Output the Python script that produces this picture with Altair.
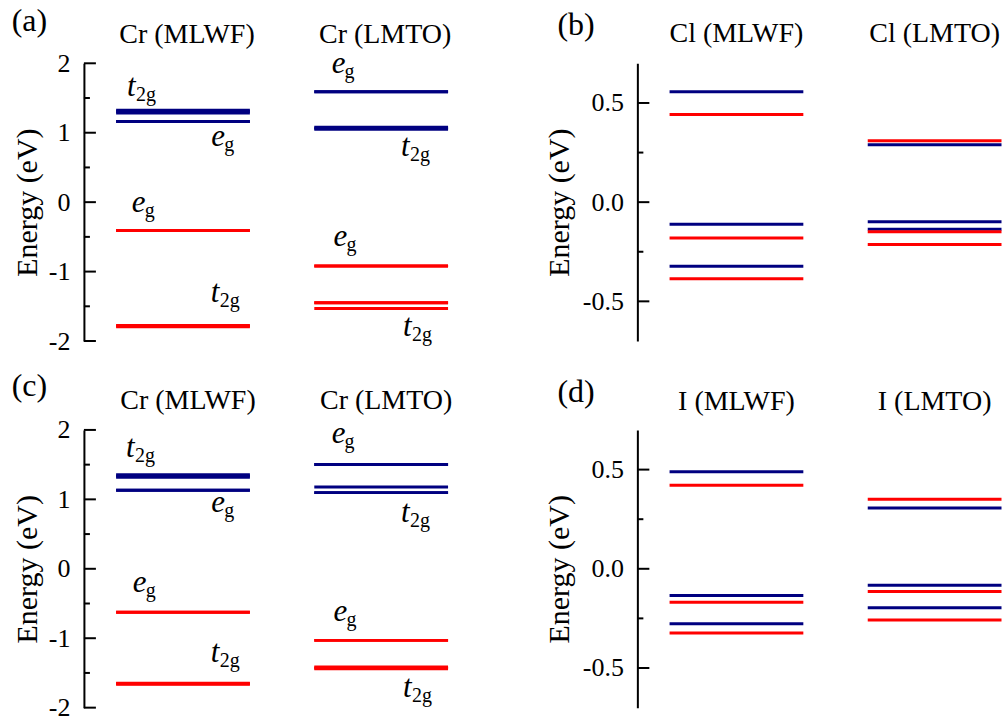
import altair as alt
import pandas as pd

FONT = "Times New Roman, Liberation Serif, DejaVu Serif, serif"
BLUE = "#000080"
RED = "#ff0000"

# ---------------- data (energies in eV) ----------------
# panel (a): Cr d levels
a_blue_mlwf = [1.285, 1.305, 1.325, 1.16, 1.16]
a_red_mlwf = [-0.41, -0.41, -1.775, -1.785, -1.795]
a_blue_lmto = [1.59, 1.59, 1.08, 1.065, 1.05]
a_red_lmto = [-0.92, -0.92, -1.45, -1.45, -1.53]

# panel (b): Cl p levels
b_blue_mlwf = [0.556, -0.111, -0.323]
b_red_mlwf = [0.442, -0.181, -0.386]
b_blue_lmto = [0.289, -0.099, -0.136]
b_red_lmto = [0.309, -0.149, -0.213]

# panel (c): Cr d levels
c_blue_mlwf = [1.32, 1.337, 1.353, 1.131, 1.131]
c_red_mlwf = [-0.627, -0.627, -1.65, -1.657, -1.662]
c_blue_lmto = [1.502, 1.502, 1.178, 1.097, 1.097]
c_red_lmto = [-1.031, -1.031, -1.415, -1.428, -1.44]

# panel (d): I p levels
d_blue_mlwf = [0.489, -0.135, -0.277]
d_red_mlwf = [0.421, -0.169, -0.324]
d_blue_lmto = [0.307, -0.083, -0.197]
d_red_lmto = [0.351, -0.115, -0.258]

method_names = ["MLWF", "LMTO"]
cr_ticks_major = [-2, -1, 0, 1, 2]
cr_ticks_minor = [-1.5, -0.5, 0.5, 1.5]
p_ticks_major = [-0.5, 0.0, 0.5]
p_ticks_minor = [-0.25, 0.25]

W, H = 365, 278
XDOM = [0.5, 2.34]
HALF = 0.3375


def levels_df(blue_m, red_m, blue_l, red_l):
    rows = []
    for col, (b, r) in enumerate([(blue_m, red_m), (blue_l, red_l)], start=1):
        for e in b:
            rows.append({"col": col, "spin": "blue", "E": e})
        for e in r:
            rows.append({"col": col, "spin": "red", "E": e})
    return pd.DataFrame(rows)


def panel(letter, elem, df, ydom, major, minor, fmt, title_x, title_dx,
          title_y, letter_x, letter_y, t_marks, e_marks):
    xs = alt.Scale(domain=XDOM, nice=False, zero=False)
    ys = alt.Scale(domain=ydom, nice=False, zero=False)
    yaxis = alt.Axis(
        values=major, format=fmt,
        labelExpr="replace(datum.label, '\u2212', '-')",
        ticks=False, tickSize=0, domainColor="black", domainWidth=2,
        grid=False, labelFont=FONT, labelFontSize=26, labelColor="black",
        labelPadding=14, title="Energy (eV)", titleFont=FONT,
        titleFontSize=30, titleFontWeight="normal", titleColor="black",
        titleX=title_x, titleY=H / 2, titleAngle=270, titleAlign="center",
        titleBaseline="middle")

    lv = alt.Chart(df).transform_calculate(
        x1=f"datum.col - {HALF}", x2=f"datum.col + {HALF}"
    ).mark_rule(strokeWidth=3).encode(
        x=alt.X("x1:Q", scale=xs, axis=None),
        x2="x2:Q",
        y=alt.Y("E:Q", scale=ys, axis=yaxis),
        color=alt.Color("spin:N", scale=alt.Scale(domain=["blue", "red"], range=[BLUE, RED]), legend=None),
    )

    tmaj = alt.Chart(pd.DataFrame({"v": major})).mark_rule(color="black", strokeWidth=2).encode(
        y=alt.Y("v:Q", scale=ys, axis=yaxis), x=alt.value(0), x2=alt.value(12))
    tmin = alt.Chart(pd.DataFrame({"v": minor})).mark_rule(color="black", strokeWidth=2).encode(
        y=alt.Y("v:Q", scale=ys, axis=yaxis), x=alt.value(0), x2=alt.value(6))

    titles = alt.Chart(pd.DataFrame({"col": [1, 2], "name": [f"{elem} ({m})" for m in method_names]})).mark_text(
        font=FONT, fontSize=28, baseline="alphabetic", align="center", dx=title_dx, color="black"
    ).encode(x=alt.X("col:Q", scale=xs, axis=None), y=alt.value(title_y), text="name:N")

    lab = alt.Chart(pd.DataFrame({"t": [f"({letter})"]})).mark_text(
        font=FONT, fontSize=32, align="left", baseline="alphabetic", color="black"
    ).encode(x=alt.value(letter_x), y=alt.value(letter_y), text="t:N")

    tdf = pd.DataFrame(t_marks, columns=["c", "e"])
    edf = pd.DataFrame(e_marks, columns=["c", "e"])

    def ann(d, main, sub, sdx):
        big = alt.Chart(d).mark_text(font=FONT, fontSize=31, fontStyle="italic", align="left",
                                     baseline="alphabetic", color="black", text=main).encode(
            x=alt.X("c:Q", scale=xs, axis=None), y=alt.Y("e:Q", scale=ys, axis=yaxis))
        small = alt.Chart(d).mark_text(font=FONT, fontSize=20, align="left",
                                       baseline="alphabetic", color="black", text=sub, dx=sdx, dy=5).encode(
            x=alt.X("c:Q", scale=xs, axis=None), y=alt.Y("e:Q", scale=ys, axis=yaxis))
        return [big, small]

    layers = [lv, tmaj, tmin, titles, lab]
    if len(tdf):
        layers += ann(tdf, "t", "2g", 9)
    if len(edf):
        layers += ann(edf, "e", "g", 13)
    return alt.layer(*layers).properties(width=W, height=H)


pa = panel("a", "Cr", levels_df(a_blue_mlwf, a_red_mlwf, a_blue_lmto, a_red_lmto), [-2, 2],
           cr_ticks_major, cr_ticks_minor, "d", -56, 4, -20, -72.3, -32,
           [(0.717, 1.525), (1.140, -1.439), (2.100, 0.662), (2.110, -1.928)],
           [(1.143, 0.806), (0.742, -0.144), (1.750, 1.865), (1.760, -0.633)])
pb = panel("b", "Cl", levels_df(b_blue_mlwf, b_red_mlwf, b_blue_lmto, b_red_lmto), [-0.7, 0.7],
           p_ticks_major, p_ticks_minor, ".1f", -78, 0, -21, -80, -28, [], [])
pc = panel("c", "Cr", levels_df(c_blue_mlwf, c_red_mlwf, c_blue_lmto, c_red_lmto), [-2, 2],
           cr_ticks_major, cr_ticks_minor, "d", -56, 5, -21, -72.3, -34,
           [(0.712, 1.604), (1.140, -1.345), (2.100, 0.669), (2.110, -1.849)],
           [(1.143, 0.813), (0.747, -0.338), (1.750, 1.810), (1.760, -0.755)])
pd_ = panel("d", "I", levels_df(d_blue_mlwf, d_red_mlwf, d_blue_lmto, d_red_lmto), [-0.7, 0.7],
            p_ticks_major, p_ticks_minor, ".1f", -78, 0, -20, -80, -28, [], [])

chart = alt.concat(pa, pb, pc, pd_, columns=2, spacing={"row": 89, "column": 189}, bounds="flush").properties(
    padding={"left": 11, "top": 5, "right": 0, "bottom": -2}
).configure_view(strokeWidth=0)

chart.save("out.html", embed_options={"renderer": "svg", "actions": False})
